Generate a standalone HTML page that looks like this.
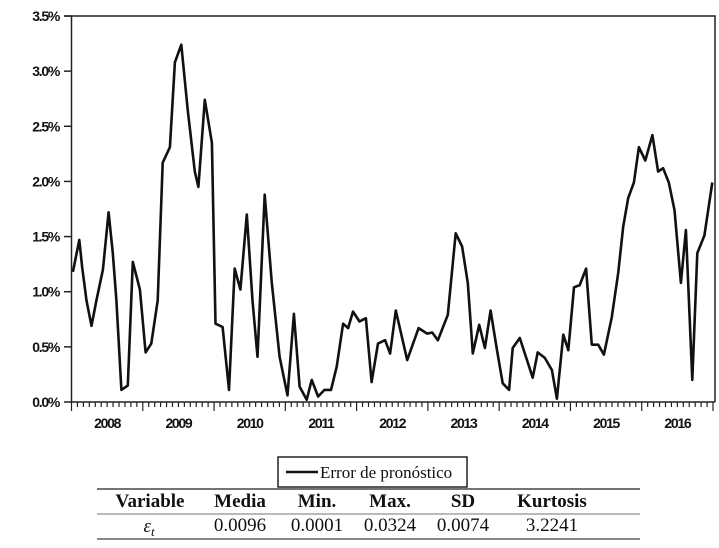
<!DOCTYPE html>
<html><head><meta charset="utf-8"><style>
body{margin:0;background:#fff;width:719px;height:548px;overflow:hidden;}
svg{display:block}
.yl{font-family:"Liberation Sans",sans-serif;font-weight:bold;font-size:14px;letter-spacing:-1.3px;fill:#111}
.xl{font-family:"Liberation Sans",sans-serif;font-weight:bold;font-size:14px;letter-spacing:-1.3px;fill:#111}
.tb{font-family:"Liberation Serif",serif;font-size:19px;fill:#111}
</style></head><body>
<svg id="chart" width="719" height="548">
<g id="axes"></g>
<path id="line" fill="none" stroke="#111" stroke-width="2.6" stroke-linejoin="round"/>
<g>
<rect x="278" y="457" width="189" height="30" fill="#fff" stroke="#222" stroke-width="1.5"/>
<line x1="286" y1="472" x2="318" y2="472" stroke="#111" stroke-width="2.6"/>
<text x="320" y="478" font-family="Liberation Serif,serif" font-size="17" fill="#111">Error de pronóstico</text>
</g>
<g>
<line x1="97" y1="489" x2="640" y2="489" stroke="#222" stroke-width="1.2"/>
<line x1="97" y1="514" x2="640" y2="514" stroke="#444" stroke-width="0.8"/>
<line x1="97" y1="539" x2="640" y2="539" stroke="#888" stroke-width="2"/>
<g class="tb" font-weight="bold" text-anchor="middle">
<text x="150" y="507">Variable</text><text x="240" y="507">Media</text><text x="317" y="507">Min.</text><text x="390" y="507">Max.</text><text x="463" y="507">SD</text><text x="552" y="507">Kurtosis</text>
</g>
<g class="tb" text-anchor="middle">
<text x="149" y="532" font-style="italic">ε<tspan font-size="13" dy="4">t</tspan></text><text x="240" y="531">0.0096</text><text x="317" y="531">0.0001</text><text x="390" y="531">0.0324</text><text x="463" y="531">0.0074</text><text x="552" y="531">3.2241</text>
</g>
</g>
</svg>
<script>
const years=["2008","2009","2010","2011","2012","2013","2014","2015","2016"];
const yTicks=[0,0.5,1.0,1.5,2.0,2.5,3.0,3.5];
const yTickLabels=["0.0%","0.5%","1.0%","1.5%","2.0%","2.5%","3.0%","3.5%"];
const dates=[0.02,0.11,0.15,0.21,0.28,0.35,0.44,0.52,0.58,0.63,0.70,0.79,0.86,0.96,1.04,1.12,1.21,1.28,1.38,1.45,1.54,1.63,1.73,1.78,1.87,1.97,2.02,2.12,2.21,2.29,2.37,2.46,2.54,2.61,2.71,2.81,2.92,3.03,3.12,3.20,3.30,3.37,3.46,3.55,3.64,3.72,3.81,3.88,3.95,4.04,4.13,4.21,4.30,4.40,4.47,4.55,4.71,4.87,4.99,5.06,5.14,5.28,5.39,5.48,5.56,5.63,5.72,5.80,5.88,5.97,6.05,6.14,6.19,6.29,6.39,6.47,6.54,6.64,6.74,6.81,6.90,6.97,7.05,7.13,7.22,7.30,7.39,7.47,7.58,7.67,7.74,7.81,7.89,7.96,8.05,8.15,8.23,8.30,8.38,8.46,8.55,8.62,8.71,8.78,8.88,8.99];
const values=[1.18,1.47,1.22,0.92,0.69,0.92,1.20,1.72,1.35,0.92,0.11,0.15,1.27,1.02,0.45,0.53,0.92,2.17,2.31,3.08,3.24,2.65,2.09,1.95,2.74,2.35,0.71,0.68,0.11,1.21,1.02,1.70,0.92,0.41,1.88,1.08,0.41,0.06,0.80,0.14,0.02,0.20,0.05,0.11,0.11,0.32,0.71,0.67,0.82,0.73,0.76,0.18,0.53,0.56,0.44,0.83,0.38,0.67,0.62,0.63,0.56,0.79,1.53,1.41,1.08,0.44,0.70,0.49,0.83,0.47,0.17,0.11,0.49,0.58,0.38,0.22,0.45,0.40,0.29,0.03,0.61,0.47,1.04,1.06,1.21,0.52,0.52,0.43,0.77,1.17,1.59,1.85,1.99,2.31,2.19,2.42,2.09,2.12,1.99,1.74,1.08,1.56,0.20,1.35,1.51,1.99];
const L=71.5,R=715,T=16,B=402;
const xs=t=>L+t*(713-L)/9;
const ys=v=>B-v*(B-T)/3.5;
const NS="http://www.w3.org/2000/svg";
const ax=document.getElementById('axes');
function mk(tag,attrs,parent){const e=document.createElementNS(NS,tag);for(const k in attrs)e.setAttribute(k,attrs[k]);(parent||ax).appendChild(e);return e;}
let fr=mk('path',{d:`M64 ${T}H${R}V${B}M${L} ${T}V${B}H${R}`,fill:'none',stroke:'#222','stroke-width':1.5});


yTicks.forEach((v,i)=>{
 const y=ys(v);
 const tk=mk('line',{x1:64,x2:L,y1:y,y2:y,stroke:'#222','stroke-width':1.5});
 
 
 const tx=mk('text',{x:59,y:y+5,'text-anchor':'end',class:'yl'});
 tx.textContent=yTickLabels[i];
 
 
});
for(let m=0;m<=108;m++){
 const x=xs(m/12);
 const tk=mk('line',{x1:x,x2:x,y1:B,y2:B+(m%12===0?9:5),stroke:'#222','stroke-width':1.2});
 
 
}
years.forEach((yr,i)=>{
 const tx=mk('text',{x:xs(i+0.5),y:428,'text-anchor':'middle',class:'xl'});
 tx.textContent=yr;
 
 
});
document.getElementById('line').setAttribute('d',values.map((v,i)=>(i?'L':'M')+xs(dates[i]).toFixed(1)+' '+ys(v).toFixed(1)).join(''));
</script>
</body></html>
